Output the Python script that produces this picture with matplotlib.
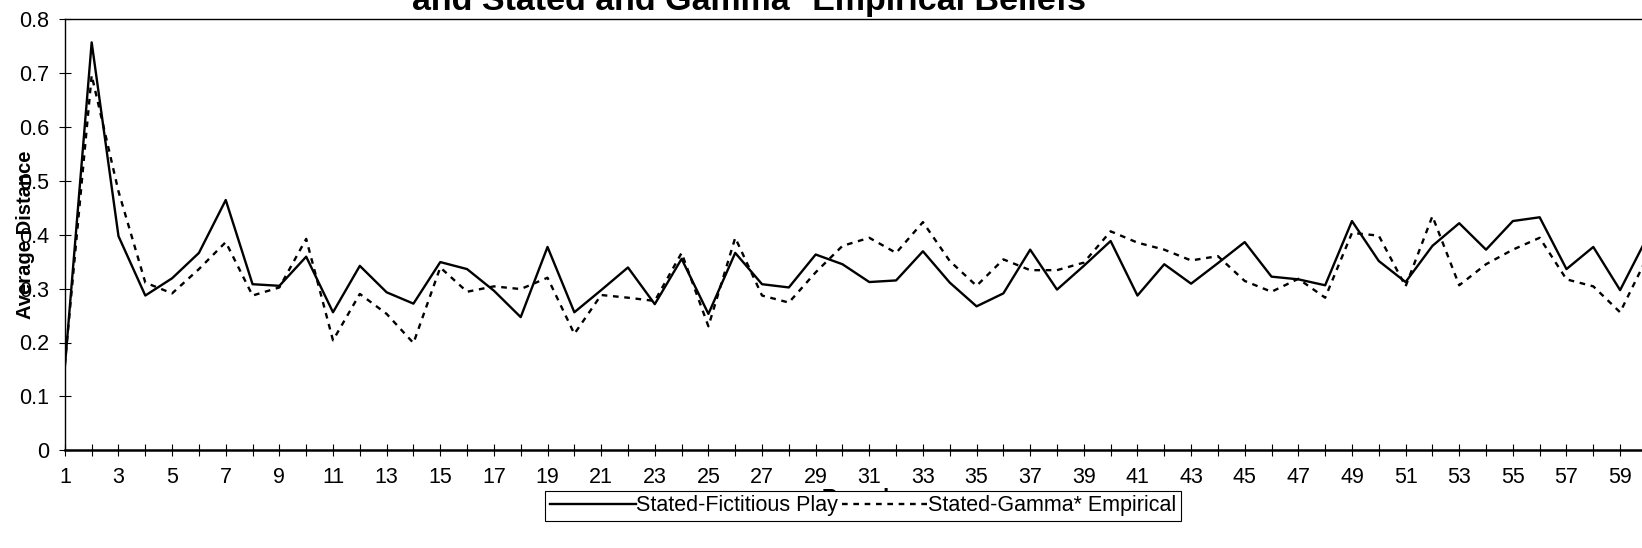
import matplotlib
matplotlib.use("Agg")
import matplotlib.pyplot as plt

plt.rcParams['font.family'] = ['Liberation Sans', 'DejaVu Sans']

# rounds 1..60
rounds = list(range(1, 61))

# Stated vs Fictitious Play beliefs (solid)
fictitious = [0.155, 0.756, 0.397, 0.287, 0.319, 0.366, 0.464, 0.308, 0.305, 0.359,
              0.256, 0.342, 0.293, 0.272, 0.349, 0.336, 0.296, 0.247, 0.377, 0.256,
              0.297, 0.339, 0.271, 0.355, 0.253, 0.366, 0.308, 0.302, 0.363, 0.345,
              0.312, 0.315, 0.369, 0.311, 0.267, 0.291, 0.372, 0.298, 0.342, 0.388,
              0.287, 0.345, 0.309, 0.347, 0.386, 0.322, 0.317, 0.306, 0.425, 0.351,
              0.312, 0.379, 0.421, 0.372, 0.425, 0.432, 0.336, 0.377, 0.297, 0.394]

# Stated vs Gamma* empirical beliefs (dashed)
gamma_emp = [0.160, 0.695, 0.480, 0.311, 0.291, 0.336, 0.386, 0.287, 0.302, 0.392,
             0.204, 0.290, 0.253, 0.199, 0.339, 0.294, 0.304, 0.299, 0.320, 0.216,
             0.288, 0.283, 0.277, 0.366, 0.230, 0.394, 0.287, 0.274, 0.330, 0.379,
             0.394, 0.366, 0.423, 0.351, 0.305, 0.354, 0.334, 0.334, 0.348, 0.406,
             0.385, 0.372, 0.352, 0.360, 0.314, 0.294, 0.318, 0.283, 0.403, 0.398,
             0.304, 0.434, 0.306, 0.345, 0.372, 0.394, 0.317, 0.304, 0.256, 0.357]

xtick_labels = [str(r) if r % 2 == 1 else '' for r in rounds]
yticks = [0, 0.1, 0.2, 0.3, 0.4, 0.5, 0.6, 0.7, 0.8]
ytick_labels = ['0', '0.1', '0.2', '0.3', '0.4', '0.5', '0.6', '0.7', '0.8']

fig = plt.figure(figsize=(16.42, 5.48), dpi=100)
ax = fig.add_axes([0.0395, 0.178, 0.9635, 0.788])

ax.plot(rounds, fictitious, color='black', lw=1.7, label='Stated-Fictitious Play')
ax.plot(rounds, gamma_emp, color='black', lw=1.7, linestyle=(0, (2.4, 2.4)),
        label='Stated-Gamma* Empirical')

ax.set_xlim(1, 60)
ax.set_ylim(0, 0.8)
ax.set_xticks(rounds)
ax.set_xticklabels(xtick_labels)
ax.set_yticks(yticks)
ax.set_yticklabels(ytick_labels)
ax.tick_params(direction='inout', length=8, width=0.8, labelsize=15.5)
ax.tick_params(axis='y', pad=7)
ax.tick_params(axis='x', pad=8)

for s in ax.spines.values():
    s.set_linewidth(1.0)
ax.spines['bottom'].set_linewidth(1.8)

# y label overlaps the tick numbers in the original
ax.set_ylabel('Average Distance', fontsize=14.5, fontweight='bold')
ax.yaxis.label.set_va('center')
ax.yaxis.set_label_coords(-0.025, 0.5)
# x label sits mostly behind the legend box, as in the original
ax.set_xlabel('Round', fontsize=15.5, fontweight='bold', labelpad=0)

# title is cropped at the top in the original, only its second line shows
fig.text(0.456, 0.982, 'and Stated and Gamma* Empirical Beliefs', ha='center', va='baseline',
         fontsize=24.5, fontweight='bold')

leg = ax.legend(loc='center', bbox_to_anchor=(0.5255, 0.077), bbox_transform=fig.transFigure,
                ncol=2, frameon=True, fancybox=False, edgecolor='black', fontsize=15.5,
                handlelength=4.0, handletextpad=0.0, columnspacing=0.2,
                borderpad=0.22, borderaxespad=0, framealpha=1)
leg.get_frame().set_linewidth(0.8)
leg.set_zorder(10)

fig.savefig('out.png', dpi=100)
